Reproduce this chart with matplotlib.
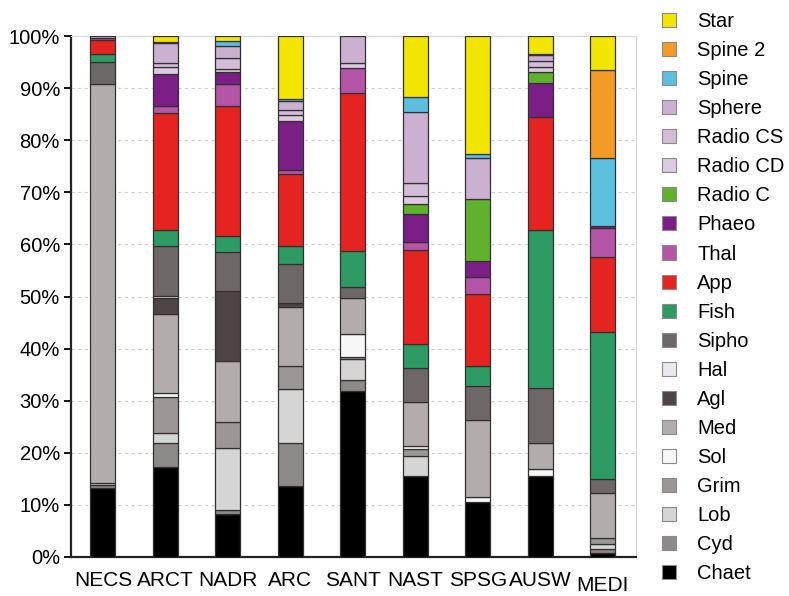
import matplotlib
matplotlib.use("Agg")
import matplotlib.pyplot as plt
from matplotlib.patches import Patch
from matplotlib.transforms import ScaledTranslation
import numpy as np

plt.rcParams['font.family'] = ['Liberation Sans', 'DejaVu Sans']

regions = ["NECS", "ARCT", "NADR", "ARC", "SANT", "NAST", "SPSG", "AUSW", "MEDI"]

chaet    = [13.2, 17.2, 8.3, 13.7, 31.8, 15.6, 10.5, 15.6, 0.8]
cyd      = [0.6, 4.7, 0.7, 8.1, 2.1, 0, 0, 0, 0.7]
lob      = [0.4, 1.9, 12.0, 10.4, 4.1, 3.8, 0, 0, 1.0]
grim     = [0, 7.0, 4.9, 4.4, 0.4, 1.4, 0, 0, 1.1]
sol      = [0, 0.6, 0, 0, 4.4, 0.5, 1.0, 1.3, 0]
med      = [76.6, 15.2, 11.8, 11.4, 6.9, 8.5, 14.8, 5.0, 8.6]
agl      = [0, 3.1, 13.3, 0.7, 0, 0, 0, 0, 0]
hal      = [0, 0.4, 0, 0, 0, 0, 0, 0, 0]
sipho    = [4.2, 9.6, 7.6, 7.6, 2.1, 6.5, 6.6, 10.6, 2.7]
fish     = [1.6, 3.1, 3.1, 3.3, 6.9, 4.5, 3.7, 30.3, 28.3]
app      = [2.6, 22.5, 24.9, 13.9, 30.3, 18.2, 13.8, 21.6, 14.4]
thal     = [0.4, 1.3, 4.1, 0.8, 4.8, 1.5, 3.4, 0, 5.6]
phaeo    = [0, 6.2, 2.4, 9.3, 0, 5.4, 3.0, 6.5, 0.3]
radio_c  = [0, 0, 0, 0, 0, 1.9, 12.0, 2.2, 0]
radio_cd = [0, 1.3, 0.6, 1.2, 1.0, 1.5, 0, 0.9, 0]
radio_cs = [0, 0.7, 2.0, 1.0, 0, 2.5, 0, 1.2, 0]
sphere   = [0.4, 3.8, 2.4, 1.8, 5.2, 13.7, 7.8, 1.2, 0]
spine    = [0, 0.3, 0.9, 0.4, 0, 2.8, 0.7, 0.2, 13.1]
spine2   = [0, 0, 0, 0, 0, 0, 0, 0, 16.9]
star     = [0, 1.1, 1.0, 12.0, 0, 11.7, 22.7, 3.4, 6.5]

series_names = ["Chaet", "Cyd", "Lob", "Grim", "Sol", "Med", "Agl", "Hal", "Sipho",
                "Fish", "App", "Thal", "Phaeo", "Radio C", "Radio CD", "Radio CS",
                "Sphere", "Spine", "Spine 2", "Star"]
series_values = [chaet, cyd, lob, grim, sol, med, agl, hal, sipho, fish, app, thal,
                 phaeo, radio_c, radio_cd, radio_cs, sphere, spine, spine2, star]
series_colors = ["#000000", "#8f8a8a", "#d5d5d5", "#9c9696", "#f7f7f7", "#b2adac",
                 "#4d4546", "#ede7ef", "#6e6767", "#2e9a64", "#e52421", "#b455a8",
                 "#7b1f87", "#5fb12e", "#dccbe0", "#d3bcd8", "#cbb0d1", "#5bc0de",
                 "#f39b26", "#f2e600"]

fig = plt.figure(figsize=(7.89, 5.96), dpi=100)
ax = fig.add_axes([71/789, 39/596, (636-71)/789, (557-36)/596])

x = np.arange(len(regions))
bottom = np.zeros(len(regions))
for name, vals, col in zip(series_names, series_values, series_colors):
    vals = np.array(vals, dtype=float)
    lw = [0.9 if v > 0 else 0 for v in vals]
    ax.bar(x, vals, width=0.4, bottom=bottom, color=col, edgecolor="#333030",
           linewidth=lw, zorder=3)
    bottom += vals

ax.set_xlim(-0.51, 8.53)
ax.set_ylim(0, 100)
ax.set_yticks(np.arange(0, 101, 10))
ax.set_yticklabels([f"{v}%" for v in range(0, 101, 10)], fontsize=14.5)
ax.set_xticks(x)
ax.set_xticklabels(regions, fontsize=15)
ax.tick_params(axis='x', length=0, pad=10)
ax.tick_params(axis='y', length=5, width=1.3, pad=3, direction='out')

last = ax.get_xticklabels()[-1]
last.set_transform(last.get_transform() + ScaledTranslation(0, -0.05, fig.dpi_scale_trans))

ax.yaxis.grid(True, linestyle=(0, (3, 3)), color="#cfcfcf", linewidth=0.8, zorder=0)
ax.set_axisbelow(True)

for s in ["left", "bottom"]:
    ax.spines[s].set_linewidth(1.6)
    ax.spines[s].set_color("#222222")
for s in ["top", "right"]:
    ax.spines[s].set_linewidth(0.8)
    ax.spines[s].set_color("#d8d8d8")

handles = [Patch(facecolor=c, edgecolor="#8a8a8a", linewidth=0.8)
           for c in series_colors][::-1]
labels = series_names[::-1]
fig.legend(handles, labels, loc="upper left", bbox_to_anchor=(662/789, 1 - 12/596),
           frameon=False, fontsize=14.5, handlelength=0.7, handleheight=0.7,
           handletextpad=1.04, labelspacing=0.50, borderpad=0, borderaxespad=0)

fig.savefig("out.png", dpi=100)
